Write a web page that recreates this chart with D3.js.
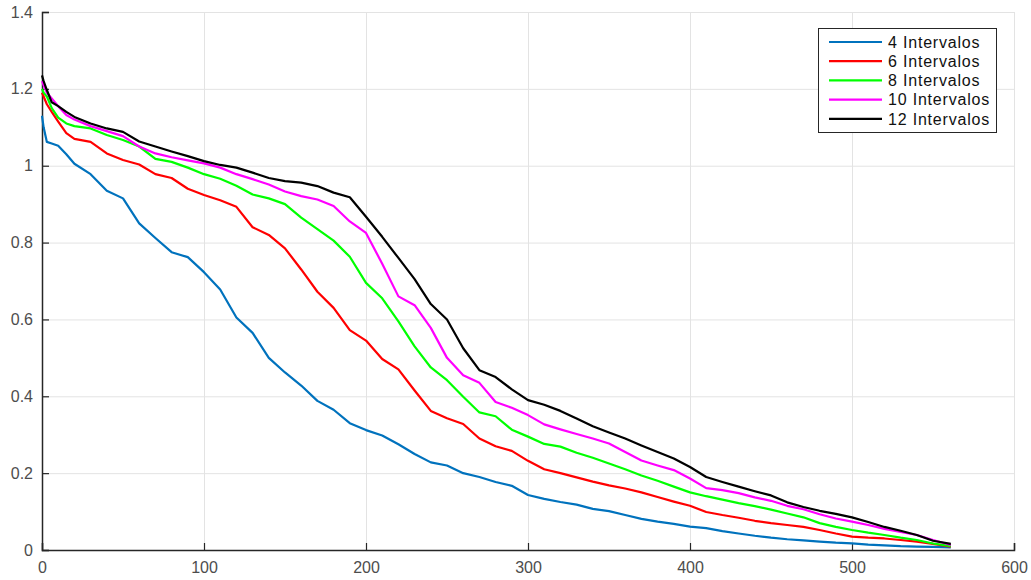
<!DOCTYPE html>
<html><head><meta charset="utf-8">
<script src="https://cdn.jsdelivr.net/npm/d3@7"></script>
<style>body{margin:0;background:#fff}svg{display:block}</style>
</head><body><svg id="c" width="1031" height="580"></svg>
<script>
const xs = [0,1,3,6,10,15,20,30,40,50,60,70,80,90,100,110,120,130,140,150,160,170,180,190,200,210,220,230,240,250,260,270,280,290,300,310,320,330,340,350,360,370,380,390,400,410,420,430,440,450,460,470,480,490,500,510,520,530,540,550,561];
const s4  = [1.13,1.10,1.062,1.058,1.052,1.03,1.005,0.978,0.935,0.915,0.85,0.812,0.775,0.762,0.723,0.678,0.605,0.565,0.50,0.462,0.428,0.388,0.365,0.33,0.312,0.298,0.275,0.25,0.228,0.22,0.2,0.19,0.177,0.167,0.143,0.133,0.125,0.118,0.107,0.101,0.091,0.081,0.074,0.068,0.061,0.057,0.049,0.043,0.037,0.032,0.028,0.025,0.022,0.019,0.017,0.014,0.012,0.010,0.009,0.008,0.007];
const s6  = [1.19,1.18,1.16,1.14,1.115,1.085,1.07,1.062,1.032,1.015,1.003,0.978,0.968,0.94,0.924,0.91,0.893,0.84,0.82,0.785,0.73,0.672,0.63,0.572,0.545,0.497,0.47,0.415,0.362,0.343,0.328,0.29,0.27,0.258,0.232,0.21,0.2,0.189,0.178,0.168,0.16,0.15,0.138,0.126,0.115,0.099,0.091,0.084,0.076,0.07,0.065,0.06,0.052,0.043,0.035,0.032,0.03,0.026,0.022,0.016,0.009];
const s8  = [1.2,1.19,1.18,1.15,1.125,1.11,1.103,1.097,1.08,1.067,1.05,1.018,1.01,0.995,0.978,0.966,0.948,0.925,0.915,0.9,0.865,0.835,0.805,0.763,0.695,0.655,0.595,0.53,0.475,0.442,0.399,0.358,0.348,0.313,0.295,0.276,0.269,0.253,0.24,0.225,0.21,0.194,0.18,0.165,0.15,0.14,0.131,0.122,0.114,0.105,0.095,0.085,0.07,0.06,0.052,0.045,0.039,0.032,0.026,0.017,0.01];
const s10 = [1.22,1.21,1.19,1.175,1.155,1.132,1.12,1.103,1.09,1.077,1.05,1.032,1.022,1.014,1.006,0.995,0.978,0.965,0.951,0.933,0.921,0.912,0.895,0.855,0.825,0.745,0.66,0.637,0.578,0.50,0.455,0.435,0.385,0.37,0.351,0.327,0.314,0.302,0.29,0.277,0.255,0.233,0.22,0.208,0.186,0.161,0.156,0.148,0.137,0.128,0.115,0.106,0.093,0.082,0.074,0.065,0.055,0.047,0.039,0.026,0.013];
const s12 = [1.235,1.22,1.197,1.165,1.155,1.14,1.127,1.11,1.097,1.088,1.063,1.05,1.037,1.025,1.012,1.002,0.995,0.982,0.968,0.96,0.956,0.947,0.93,0.918,0.867,0.815,0.76,0.705,0.64,0.6,0.525,0.468,0.45,0.418,0.39,0.378,0.362,0.342,0.322,0.306,0.29,0.272,0.255,0.238,0.216,0.19,0.177,0.165,0.153,0.142,0.124,0.112,0.102,0.094,0.085,0.073,0.06,0.05,0.039,0.024,0.016];
const seriesNames = ["4 Intervalos","6 Intervalos","8 Intervalos","10 Intervalos","12 Intervalos"];
const seriesValues = [s4,s6,s8,s10,s12];
const colors = ["#0072BD","#FF0000","#00FF00","#FF00FF","#000000"];
const xTicks = [0,100,200,300,400,500,600];
const yTicks = [0,0.2,0.4,0.6,0.8,1,1.2,1.4];

const svg = d3.select("#c");
const L=42,R=1014,T=12,B=550;
const x = d3.scaleLinear().domain([0,600]).range([L,R]);
const y = d3.scaleLinear().domain([0,1.4]).range([B,T]);
const axisCol="#262626", labelCol="#4d4d4d", gridCol="#e3e3e3";
const font = "Liberation Sans, Arial, sans-serif";

// grid
svg.append("g").selectAll("line").data(xTicks.slice(1)).join("line")
  .attr("x1",d=>x(d)+0.5).attr("x2",d=>x(d)+0.5).attr("y1",T).attr("y2",B)
  .attr("stroke",gridCol).attr("stroke-width",1);
svg.append("g").selectAll("line").data(yTicks.slice(1)).join("line")
  .attr("x1",L).attr("x2",R).attr("y1",d=>y(d)+0.5).attr("y2",d=>y(d)+0.5)
  .attr("stroke",gridCol).attr("stroke-width",1);

// axes (MATLAB style: inward ticks, no box)
const xAxis = d3.axisBottom(x).tickValues(xTicks).tickSize(-7).tickPadding(12).tickFormat(d3.format("d"));
const yAxis = d3.axisLeft(y).tickValues(yTicks).tickSize(-7).tickPadding(9).tickFormat(d=>d3.format("~g")(d));
const gx = svg.append("g").attr("transform",`translate(0,${B})`).call(xAxis);
const gy = svg.append("g").attr("transform",`translate(${L},0)`).call(yAxis);
[gx,gy].forEach(g=>{
  g.select(".domain").attr("stroke",axisCol).attr("stroke-width",1.5);
  g.selectAll(".tick line").attr("stroke",axisCol).attr("stroke-width",1.2);
  g.selectAll(".tick text").attr("fill",labelCol).attr("font-family",font).attr("font-size",16);
});

// lines
const line = d3.line().x((d,i)=>x(xs[i])).y(d=>y(d));
svg.append("g").selectAll("path").data(seriesValues).join("path")
  .attr("d",d=>line(d)).attr("fill","none")
  .attr("stroke",(d,i)=>colors[i]).attr("stroke-width",2.2).attr("stroke-linejoin","round");

// legend
const lg = svg.append("g");
lg.append("rect").attr("x",818.5).attr("y",28.5).attr("width",178).attr("height",104)
  .attr("fill","#fff").attr("stroke","#262626").attr("stroke-width",1);
seriesNames.forEach((n,i)=>{
  const cy = 42 + i*19.2;
  lg.append("line").attr("x1",829).attr("x2",882).attr("y1",cy).attr("y2",cy)
    .attr("stroke",colors[i]).attr("stroke-width",2.2);
  lg.append("text").attr("x",888).attr("y",cy).attr("dy","0.36em")
    .attr("font-family",font).attr("font-size",16).attr("letter-spacing","0.8px")
    .attr("fill","#111").text(n);
});
</script></body></html>
